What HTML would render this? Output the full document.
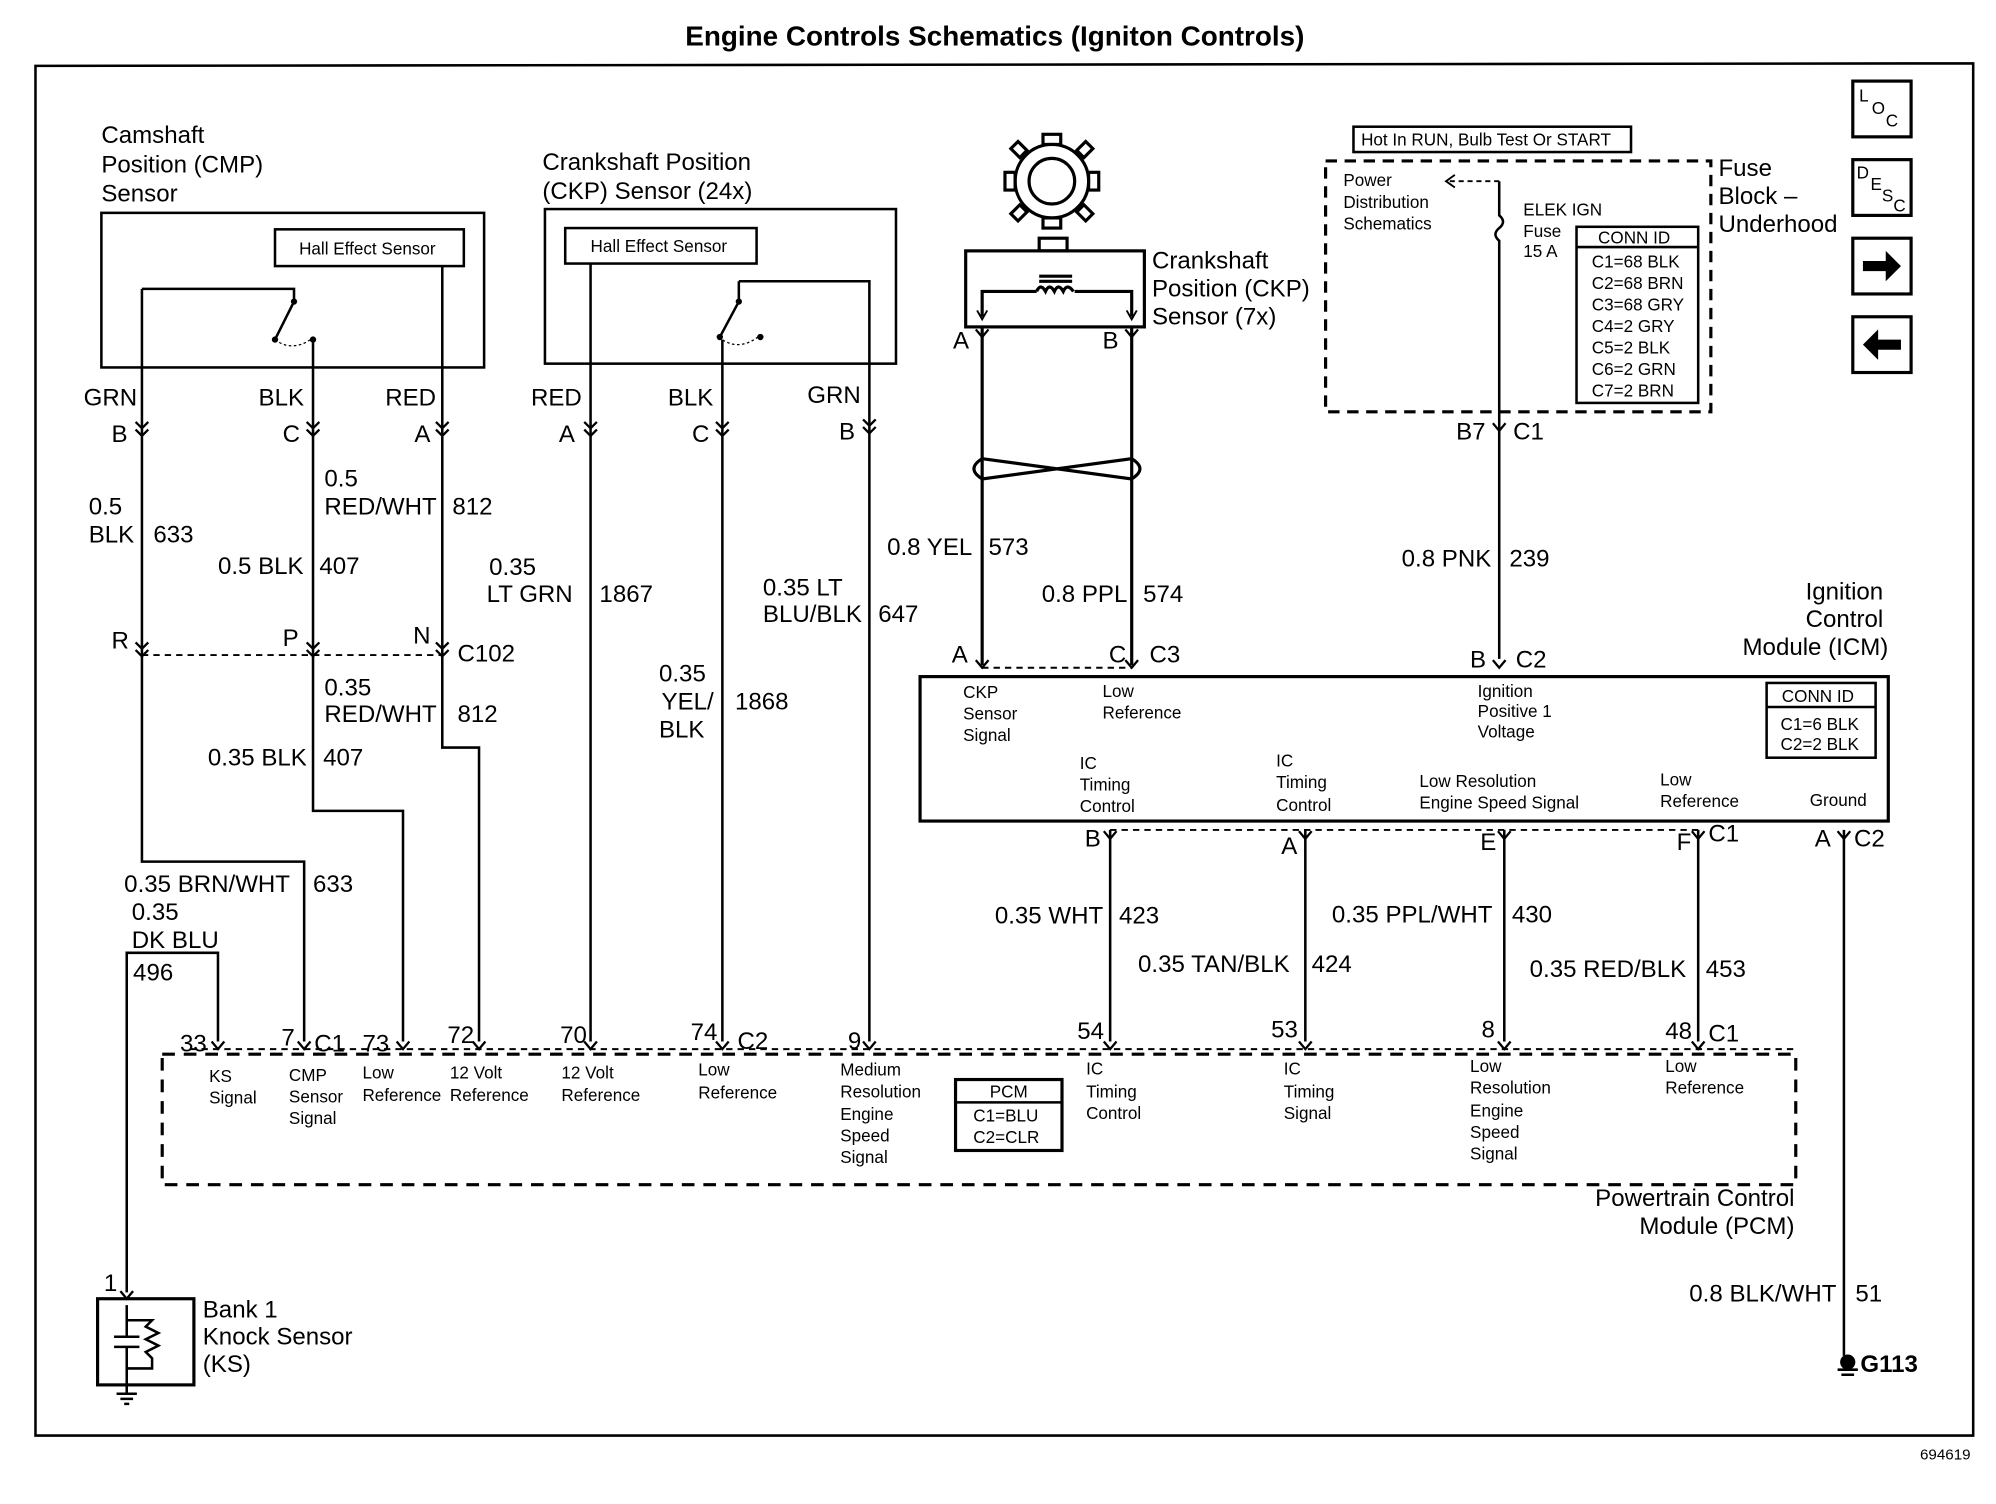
<!DOCTYPE html>
<html><head><meta charset="utf-8"><style>
html,body{margin:0;padding:0;background:#fff}
svg{display:block}
text{font-family:"Liberation Sans",Arial,sans-serif;fill:#000}
.l{font-size:19px}
.s{font-size:13.5px}
.m{font-size:14.5px}
</style></head><body>
<svg width="1996" height="1504" viewBox="0 0 1575 1187" preserveAspectRatio="none" xmlns="http://www.w3.org/2000/svg">
<defs>
<g id="ch"><path d="M-5,-5 L0,0 L5,-5 M-5,1 L0,6 L5,1" fill="none" stroke="#000" stroke-width="1.8"/></g>
<g id="yy"><path d="M-5,-6 L0,0 L5,-6" fill="none" stroke="#000" stroke-width="1.8"/></g>
</defs>
<rect width="1575" height="1187" fill="#fff"/>
<text x="785" y="36" text-anchor="middle" style="font-size:22px;font-weight:bold">Engine Controls Schematics (Igniton Controls)</text>
<g fill="none" stroke="#000" stroke-width="2">
<path d="M28,52 L1557,50 L1557,1133 L28,1133 Z"/>
</g>
<text x="1555" y="1152" text-anchor="end" class="s" style="font-size:12px">694619</text>

<!-- right icons -->
<g fill="none" stroke="#000" stroke-width="2.5">
<rect x="1462" y="64" width="46" height="44"/><rect x="1462" y="126" width="46" height="44"/>
<rect x="1462" y="188" width="46" height="44"/><rect x="1462" y="250" width="46" height="44"/>
</g>
<text x="1467" y="80" class="s">L</text><text x="1477" y="90" class="s">O</text><text x="1488" y="100" class="s">C</text>
<text x="1465" y="141" class="s">D</text><text x="1476" y="150" class="s">E</text><text x="1485" y="159" class="s">S</text><text x="1494" y="167" class="s">C</text>
<path d="M1470,206 L1488,206 L1488,198 L1500,210 L1488,222 L1488,214 L1470,214 Z"/>
<path d="M1500,268 L1482,268 L1482,260 L1470,272 L1482,284 L1482,276 L1500,276 Z"/>

<!-- CMP sensor -->
<text class="l" x="80" y="113">Camshaft</text><text class="l" x="80" y="136">Position (CMP)</text><text class="l" x="80" y="159">Sensor</text>
<g fill="none" stroke="#000" stroke-width="2">
<rect x="80" y="168" width="302" height="122"/>
<rect x="217" y="181" width="149" height="29"/>
<path d="M112,228 L232,228 L232,238 M112,228 L112,520 L112,680 L240,680 L240,822"/>
<path d="M232,238 L217,268 M247,268 L247,640 L318,640 L318,822"/>
<path d="M349,210 L349,590 L378,590 L378,822"/>
</g>
<path d="M217,268 Q230,278 245,268" fill="none" stroke="#000" stroke-dasharray="2,2"/>
<circle cx="232" cy="238" r="2.5"/><circle cx="217" cy="268" r="2.5"/><circle cx="247" cy="268" r="2.5"/>
<text class="s" x="236" y="201">Hall Effect Sensor</text>

<!-- CKP 24x -->
<text class="l" x="428" y="134">Crankshaft Position</text><text class="l" x="428" y="157">(CKP) Sensor (24x)</text>
<g fill="none" stroke="#000" stroke-width="2">
<rect x="430" y="165" width="277" height="122"/>
<rect x="446" y="180" width="151" height="28"/>
<path d="M466,208 L466,822 M583,222 L686,222 L686,822 M583,222 L583,238 L568,266 M600,266 L600,268 M570,268 L570,822"/>
</g>
<path d="M567,266 Q582,278 598,266" fill="none" stroke="#000" stroke-dasharray="2,2"/>
<circle cx="583" cy="238" r="2.5"/><circle cx="568" cy="266" r="2.5"/><circle cx="600" cy="266" r="2.5"/>
<text class="s" x="466" y="199">Hall Effect Sensor</text>

<!-- wire labels upper left -->
<text class="l" x="66" y="320">GRN</text><text class="l" x="204" y="320">BLK</text><text class="l" x="304" y="320">RED</text>
<text class="l" x="419" y="320">RED</text><text class="l" x="527" y="320">BLK</text><text class="l" x="637" y="318">GRN</text>
<text class="l" x="88" y="349">B</text><text class="l" x="223" y="349">C</text><text class="l" x="327" y="349">A</text>
<text class="l" x="441" y="349">A</text><text class="l" x="546" y="349">C</text><text class="l" x="662" y="347">B</text>
<use href="#ch" x="112" y="338"/><use href="#ch" x="247" y="338"/><use href="#ch" x="349" y="338"/>
<use href="#ch" x="466" y="338"/><use href="#ch" x="570" y="338"/><use href="#ch" x="686" y="336"/>
<text class="l" x="70" y="406">0.5</text><text class="l" x="70" y="428">BLK</text><text class="l" x="121" y="428">633</text>
<text class="l" x="256" y="384">0.5</text><text class="l" x="256" y="406">RED/WHT</text><text class="l" x="357" y="406">812</text>
<text class="l" x="172" y="453">0.5 BLK</text><text class="l" x="252" y="453">407</text>
<text class="l" x="386" y="454">0.35</text><text class="l" x="384" y="475">LT GRN</text><text class="l" x="473" y="475">1867</text>
<text class="l" x="602" y="470">0.35 LT</text><text class="l" x="602" y="491">BLU/BLK</text><text class="l" x="693" y="491">647</text>
<text class="l" x="520" y="538">0.35</text><text class="l" x="522" y="560">YEL/</text><text class="l" x="520" y="582">BLK</text><text class="l" x="580" y="560">1868</text>

<!-- C102 -->
<line x1="112" y1="517" x2="349" y2="517" stroke="#000" stroke-width="1.5" stroke-dasharray="5,4"/>
<text class="l" x="88" y="512">R</text><text class="l" x="223" y="510">P</text><text class="l" x="326" y="508">N</text><text class="l" x="361" y="522">C102</text>
<use href="#ch" x="112" y="512"/><use href="#ch" x="247" y="512"/><use href="#ch" x="349" y="512"/>
<text class="l" x="256" y="549">0.35</text><text class="l" x="256" y="570">RED/WHT</text><text class="l" x="361" y="570">812</text>
<text class="l" x="164" y="604">0.35 BLK</text><text class="l" x="255" y="604">407</text>
<text class="l" x="98" y="704">0.35 BRN/WHT</text><text class="l" x="247" y="704">633</text>
<text class="l" x="104" y="726">0.35</text><text class="l" x="104" y="748">DK BLU</text>
<path d="M100,1020 L100,752 L172,752 L172,822" fill="none" stroke="#000" stroke-width="2"/>
<text class="l" x="105" y="774">496</text>

<!-- gear + CKP 7x -->
<g fill="none" stroke="#000" stroke-width="2.5">
<circle cx="830" cy="143" r="29"/><circle cx="830" cy="143" r="18"/>
<rect x="823" y="106" width="14" height="8"/><rect x="823" y="172" width="14" height="8"/>
<rect x="793" y="136" width="8" height="14"/><rect x="859" y="136" width="8" height="14"/>
<rect x="800" y="113" width="8" height="10" transform="rotate(-45 804 118)"/><rect x="852" y="113" width="8" height="10" transform="rotate(45 856 118)"/>
<rect x="800" y="163" width="8" height="10" transform="rotate(45 804 168)"/><rect x="852" y="163" width="8" height="10" transform="rotate(-45 856 168)"/>
<rect x="762" y="198" width="141" height="60"/><rect x="820" y="188" width="22" height="10"/>
<path d="M775,250 L775,230 L818,230 M848,230 L893,230 L893,250 M820,218 L846,218 M820,222 L846,222"/>
<path d="M818,230 q3,-7 7,0 q3,-7 7,0 q3,-7 7,0 q3,-7 8,0"/>
<path d="M775,258 L775,525 M893,258 L893,525"/>
<path d="M775,362 Q762,370 775,378 L893,362 Q906,370 893,378 L775,362 M775,378 L893,362"/>
</g>
<path d="M771,245 L775,252 L779,245 M889,245 L893,252 L897,245" fill="none" stroke="#000" stroke-width="1.5"/>
<text class="l" x="909" y="212">Crankshaft</text><text class="l" x="909" y="234">Position (CKP)</text><text class="l" x="909" y="256">Sensor (7x)</text>
<text class="l" x="752" y="275">A</text><text class="l" x="870" y="275">B</text>
<use href="#yy" x="775" y="266"/><use href="#yy" x="893" y="266"/>
<text class="l" x="700" y="438">0.8 YEL</text><text class="l" x="780" y="438">573</text>
<text class="l" x="822" y="475">0.8 PPL</text><text class="l" x="902" y="475">574</text>

<!-- fuse block -->
<rect x="1046" y="127" width="304" height="198" fill="none" stroke="#000" stroke-width="2.5" stroke-dasharray="9,6"/>
<rect x="1068" y="100" width="219" height="20" fill="#fff" stroke="#000" stroke-width="2"/>
<text class="s" x="1074" y="115">Hot In RUN, Bulb Test Or START</text>
<text class="s" x="1060" y="147">Power</text><text class="s" x="1060" y="164">Distribution</text><text class="s" x="1060" y="181">Schematics</text>
<path d="M1183,143 L1142,143" stroke="#000" stroke-width="1.5" stroke-dasharray="4,3"/>
<path d="M1148,138 L1141,143 L1148,148" fill="none" stroke="#000" stroke-width="1.5"/>
<path d="M1183,143 L1183,170 q6,5 0,10 q-6,5 0,10 L1183,322 L1183,520" fill="none" stroke="#000" stroke-width="2"/>
<text class="s" x="1202" y="170">ELEK IGN</text><text class="s" x="1202" y="187">Fuse</text><text class="s" x="1202" y="203">15 A</text>
<rect x="1244" y="179" width="96" height="139" fill="#fff" stroke="#000" stroke-width="2"/>
<line x1="1244" y1="195" x2="1340" y2="195" stroke="#000" stroke-width="2"/>
<text class="s" x="1261" y="192">CONN ID</text>
<text class="s" x="1256" y="211">C1=68 BLK</text><text class="s" x="1256" y="228">C2=68 BRN</text><text class="s" x="1256" y="245">C3=68 GRY</text>
<text class="s" x="1256" y="262">C4=2 GRY</text><text class="s" x="1256" y="279">C5=2 BLK</text><text class="s" x="1256" y="296">C6=2 GRN</text><text class="s" x="1256" y="313">C7=2 BRN</text>
<text class="l" x="1356" y="139">Fuse</text><text class="l" x="1356" y="161">Block –</text><text class="l" x="1356" y="183">Underhood</text>
<text class="l" x="1149" y="347">B7</text><use href="#yy" x="1183" y="340"/><text class="l" x="1194" y="347">C1</text>
<text class="l" x="1106" y="447">0.8 PNK</text><text class="l" x="1191" y="447">239</text>

<!-- ICM -->
<text class="l" x="1486" y="473" text-anchor="end">Ignition</text><text class="l" x="1486" y="495" text-anchor="end">Control</text><text class="l" x="1490" y="517" text-anchor="end">Module (ICM)</text>
<line x1="775" y1="527" x2="893" y2="527" stroke="#000" stroke-width="1.5" stroke-dasharray="5,4"/>
<text class="l" x="751" y="523">A</text><text class="l" x="875" y="523">C</text><text class="l" x="907" y="523">C3</text>
<use href="#yy" x="775" y="527"/><use href="#yy" x="893" y="527"/>
<text class="l" x="1160" y="527">B</text><use href="#yy" x="1183" y="527"/><text class="l" x="1196" y="527">C2</text>
<rect x="726" y="534" width="764" height="114" fill="none" stroke="#000" stroke-width="2.5"/>
<text class="s" x="760" y="551">CKP</text><text class="s" x="760" y="568">Sensor</text><text class="s" x="760" y="585">Signal</text>
<text class="s" x="870" y="550">Low</text><text class="s" x="870" y="567">Reference</text>
<text class="s" x="1166" y="550">Ignition</text><text class="s" x="1166" y="566">Positive 1</text><text class="s" x="1166" y="582">Voltage</text>
<text class="s" x="852" y="607">IC</text><text class="s" x="852" y="624">Timing</text><text class="s" x="852" y="641">Control</text>
<text class="s" x="1007" y="605">IC</text><text class="s" x="1007" y="622">Timing</text><text class="s" x="1007" y="640">Control</text>
<text class="s" x="1120" y="621">Low Resolution</text><text class="s" x="1120" y="638">Engine Speed Signal</text>
<text class="s" x="1310" y="620">Low</text><text class="s" x="1310" y="637">Reference</text>
<text class="s" x="1428" y="636">Ground</text>
<rect x="1394" y="539" width="86" height="59" fill="none" stroke="#000" stroke-width="2"/>
<line x1="1394" y1="558" x2="1480" y2="558" stroke="#000" stroke-width="2"/>
<text class="s" x="1406" y="554">CONN ID</text><text class="s" x="1405" y="576">C1=6 BLK</text><text class="s" x="1405" y="592">C2=2 BLK</text>

<line x1="876" y1="655" x2="1340" y2="655" stroke="#000" stroke-width="1.5" stroke-dasharray="5,4"/>
<g stroke="#000" stroke-width="2"><line x1="876" y1="655" x2="876" y2="822"/><line x1="1030" y1="655" x2="1030" y2="822"/><line x1="1187" y1="655" x2="1187" y2="822"/><line x1="1340" y1="655" x2="1340" y2="822"/><line x1="1455" y1="655" x2="1455" y2="1070"/></g>
<use href="#yy" x="876" y="662"/><use href="#yy" x="1030" y="662"/><use href="#yy" x="1187" y="662"/><use href="#yy" x="1340" y="662"/><use href="#yy" x="1455" y="662"/>
<text class="l" x="856" y="668">B</text><text class="l" x="1011" y="674">A</text><text class="l" x="1168" y="671">E</text><text class="l" x="1323" y="671">F</text><text class="l" x="1348" y="664">C1</text>
<text class="l" x="1432" y="668">A</text><text class="l" x="1463" y="668">C2</text>
<text class="l" x="785" y="729">0.35 WHT</text><text class="l" x="883" y="729">423</text>
<text class="l" x="898" y="767">0.35 TAN/BLK</text><text class="l" x="1035" y="767">424</text>
<text class="l" x="1051" y="728">0.35 PPL/WHT</text><text class="l" x="1193" y="728">430</text>
<text class="l" x="1207" y="771">0.35 RED/BLK</text><text class="l" x="1346" y="771">453</text>

<!-- PCM -->
<line x1="150" y1="828" x2="1417" y2="828" stroke="#000" stroke-width="1.5" stroke-dasharray="5,4"/>
<rect x="128" y="832" width="1289" height="103" fill="none" stroke="#000" stroke-width="2.5" stroke-dasharray="10,7"/>
<g>
<text class="l" x="142" y="830">33</text><use href="#yy" x="172" y="828"/>
<text class="l" x="222" y="825">7</text><use href="#yy" x="240" y="828"/><text class="l" x="248" y="830">C1</text>
<text class="l" x="286" y="830">73</text><use href="#yy" x="318" y="828"/>
<text class="l" x="353" y="823">72</text><use href="#yy" x="378" y="828"/>
<text class="l" x="442" y="823">70</text><use href="#yy" x="466" y="828"/>
<text class="l" x="545" y="821">74</text><use href="#yy" x="570" y="828"/><text class="l" x="582" y="828">C2</text>
<text class="l" x="669" y="828">9</text><use href="#yy" x="686" y="828"/>
<text class="l" x="850" y="820">54</text><use href="#yy" x="876" y="828"/>
<text class="l" x="1003" y="819">53</text><use href="#yy" x="1030" y="828"/>
<text class="l" x="1169" y="819">8</text><use href="#yy" x="1187" y="828"/>
<text class="l" x="1314" y="820">48</text><use href="#yy" x="1340" y="828"/><text class="l" x="1348" y="822">C1</text>
</g>
<text class="s" x="165" y="854">KS</text><text class="s" x="165" y="871">Signal</text>
<text class="s" x="228" y="853">CMP</text><text class="s" x="228" y="870">Sensor</text><text class="s" x="228" y="887">Signal</text>
<text class="s" x="286" y="851">Low</text><text class="s" x="286" y="869">Reference</text>
<text class="s" x="355" y="851">12 Volt</text><text class="s" x="355" y="869">Reference</text>
<text class="s" x="443" y="851">12 Volt</text><text class="s" x="443" y="869">Reference</text>
<text class="s" x="551" y="849">Low</text><text class="s" x="551" y="867">Reference</text>
<text class="s" x="663" y="849">Medium</text><text class="s" x="663" y="866">Resolution</text><text class="s" x="663" y="884">Engine</text><text class="s" x="663" y="901">Speed</text><text class="s" x="663" y="918">Signal</text>
<rect x="754" y="852" width="84" height="56" fill="none" stroke="#000" stroke-width="2.5"/>
<line x1="754" y1="870" x2="838" y2="870" stroke="#000" stroke-width="2"/>
<text class="s" x="781" y="866">PCM</text><text class="s" x="768" y="885">C1=BLU</text><text class="s" x="768" y="902">C2=CLR</text>
<text class="s" x="857" y="848">IC</text><text class="s" x="857" y="866">Timing</text><text class="s" x="857" y="883">Control</text>
<text class="s" x="1013" y="848">IC</text><text class="s" x="1013" y="866">Timing</text><text class="s" x="1013" y="883">Signal</text>
<text class="s" x="1160" y="846">Low</text><text class="s" x="1160" y="863">Resolution</text><text class="s" x="1160" y="881">Engine</text><text class="s" x="1160" y="898">Speed</text><text class="s" x="1160" y="915">Signal</text>
<text class="s" x="1314" y="846">Low</text><text class="s" x="1314" y="863">Reference</text>
<text class="l" x="1416" y="952" text-anchor="end">Powertrain Control</text><text class="l" x="1416" y="974" text-anchor="end">Module (PCM)</text>

<!-- knock sensor -->
<text class="l" x="82" y="1019">1</text><use href="#yy" x="100" y="1025"/>
<rect x="77" y="1025" width="76" height="68" fill="none" stroke="#000" stroke-width="2.5"/>
<g fill="none" stroke="#000" stroke-width="2">
<path d="M100,1030 L100,1055 M90,1055 L110,1055 M90,1063 L110,1063 M100,1063 L100,1100 M100,1042 L120,1042 L115,1047 L125,1052 L115,1057 L125,1062 L115,1067 L120,1072 L120,1080 L100,1080"/>
<path d="M92,1100 L108,1100 M95,1104 L105,1104 M98,1108 L102,1108"/>
</g>
<text class="l" x="160" y="1040">Bank 1</text><text class="l" x="160" y="1061">Knock Sensor</text><text class="l" x="160" y="1083">(KS)</text>

<!-- ground G113 -->
<text class="l" x="1333" y="1027">0.8 BLK/WHT</text><text class="l" x="1464" y="1027">51</text>
<circle cx="1458" cy="1075" r="6"/>
<path d="M1450,1081 L1466,1081 M1453,1085 L1463,1085" stroke="#000" stroke-width="2"/>
<text class="l" x="1468" y="1083" style="font-weight:bold">G113</text>
</svg>
</body></html>
